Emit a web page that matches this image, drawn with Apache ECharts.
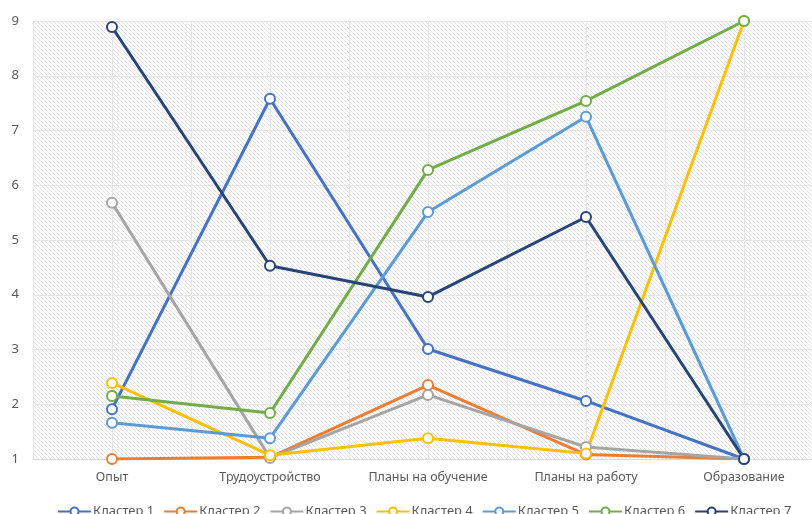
<!DOCTYPE html>
<html><head><meta charset="utf-8">
<script src="https://cdn.jsdelivr.net/npm/echarts@6/dist/echarts.min.js"></script>
<style>html,body{margin:0;padding:0;background:#fff;overflow:hidden}#c{width:823px;height:514px}</style>
</head><body><div id="c"></div>
<script>
const categories = ['Опыт','Трудоустройство','Планы на обучение','Планы на работу','Образование'];
const cluster1 = [1.91, 7.58, 3.01, 2.06, 1.0];
const cluster2 = [1.0, 1.03, 2.35, 1.08, 1.0];
const cluster3 = [5.68, 1.02, 2.17, 1.22, 1.0];
const cluster4 = [2.39, 1.07, 1.38, 1.1, 9.0];
const cluster5 = [1.66, 1.38, 5.51, 7.25, 1.0];
const cluster6 = [2.15, 1.84, 6.28, 7.54, 9.0];
const cluster7 = [8.89, 4.53, 3.96, 5.42, 1.0];
const seriesNames = ['Кластер 1','Кластер 2','Кластер 3','Кластер 4','Кластер 5','Кластер 6','Кластер 7'];
const seriesData = [cluster1, cluster2, cluster3, cluster4, cluster5, cluster6, cluster7];
const colors = ['#4472C4','#ED7D31','#A5A5A5','#FFC000','#5B9BD5','#70AD47','#264478'];

const pc = document.createElement('canvas');
pc.width = 4; pc.height = 4;
const g = pc.getContext('2d');
g.fillStyle = '#ffffff'; g.fillRect(0,0,4,4);
g.strokeStyle = '#e2e2e2'; g.lineWidth = 1;
g.beginPath(); g.moveTo(-1,-1); g.lineTo(5,5); g.moveTo(-1,3); g.lineTo(1,5); g.moveTo(3,-1); g.lineTo(5,1); g.stroke();

const font = 'Noto Sans';
const chart = echarts.init(document.getElementById('c'));
chart.setOption({
  color: colors,
  animation: false,
  textStyle: {fontFamily: font},
  grid: {left: 33, top: 21, height: 438, width: 790, show: true, borderWidth: 0,
         backgroundColor: {image: pc, repeat: 'repeat'}},
  legend: {top: 500, left: 52, width: 900, itemWidth: 33, itemHeight: 10, itemGap: 9,
           textStyle: {color: '#595959', fontSize: 13, fontFamily: font, padding: [0,0,0,-3]}},
  xAxis: [{type: 'category', data: categories, boundaryGap: true,
           axisLine: {lineStyle: {color: '#d9d9d9'}}, axisTick: {show: false},
           axisLabel: {color: '#595959', fontSize: 12.5, margin: 12},
           splitLine: {show: false}},
          {type: 'value', min: 0, max: 10, interval: 1, show: true, position: 'bottom',
           axisLine: {show: false}, axisTick: {show: false}, axisLabel: {show: false},
           splitLine: {show: true, lineStyle: {color: '#e6e6e6', width: 1}}}],
  yAxis: {type: 'value', min: 1, max: 9, interval: 1,
          axisLine: {show: false}, axisTick: {show: false},
          axisLabel: {color: '#595959', fontSize: 13, margin: 14},
          splitLine: {lineStyle: {color: '#e6e6e6', width: 1}}},
  series: seriesNames.map((n, i) => ({
    name: n, type: 'line', data: seriesData[i], xAxisIndex: 0,
    symbol: 'circle', symbolSize: 10, showAllSymbol: true,
    lineStyle: {width: 3, color: colors[i]},
    itemStyle: {color: '#fff', borderColor: colors[i], borderWidth: 2}
  }))
});
</script></body></html>
